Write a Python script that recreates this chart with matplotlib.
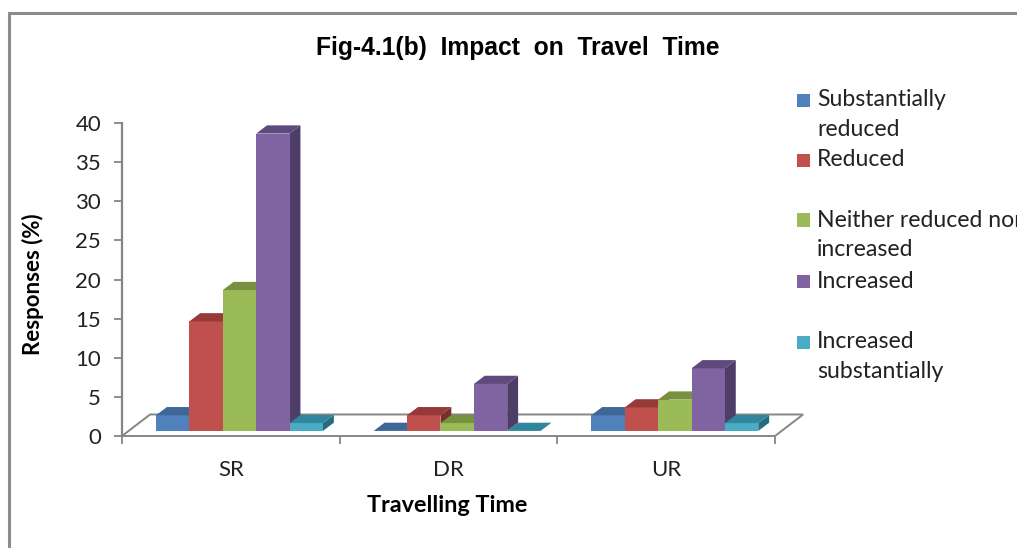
import matplotlib
matplotlib.use("Agg")
import matplotlib.pyplot as plt
from matplotlib.patches import Polygon, Rectangle
import numpy as np

# ---- data -------------------------------------------------------------
categories = ["SR", "DR", "UR"]
series_names = [
    "Substantially\nreduced",
    "Reduced",
    "Neither reduced nor\nincreased",
    "Increased",
    "Increased\nsubstantially",
]
substantially_reduced = [2, 0, 2]
reduced = [14, 2, 3]
neither = [18, 1, 4]
increased = [38, 6, 8]
increased_substantially = [1, 0, 1]
series_values = [substantially_reduced, reduced, neither, increased,
                 increased_substantially]
y_ticks = [0, 5, 10, 15, 20, 25, 30, 35, 40]

# ---- styling ----------------------------------------------------------
front_colors = ["#4F81BD", "#C0504D", "#9BBB59", "#8064A2", "#4BACC6"]
top_colors = ["#3E6696", "#953A37", "#77913F", "#5F4A7E", "#31859C"]
side_colors = ["#2F4F75", "#7A2F2C", "#5F7533", "#4E3D66", "#276B7E"]
axis_gray = "#868686"
text_color = "#222222"
body_font = "Lato"

W, H = 1017, 548
fig = plt.figure(figsize=(W / 100, H / 100), dpi=100)

# outer chart border
fig.patches.append(Rectangle((9 / W, -0.05), 1.2, (548 - 13) / H + 0.05,
                             transform=fig.transFigure, fill=False,
                             edgecolor="#8C8C8C", linewidth=2.2))

# plot area: front plane of the 3-D box
left_px, right_px, zero_px, top_px = 122, 775, 436, 123
ax = fig.add_axes([left_px / W, (H - zero_px) / H,
                   (right_px - left_px) / W, (zero_px - top_px) / H])
ax.set_xlim(-0.5, len(categories) - 0.5)
ax.set_ylim(0, 40)
ax.patch.set_alpha(0)

for s in ["top", "right", "bottom"]:
    ax.spines[s].set_visible(False)
ax.spines["left"].set_color(axis_gray)
ax.spines["left"].set_linewidth(1.6)

ax.set_yticks(y_ticks)
ax.set_yticklabels([str(t) for t in y_ticks], fontsize=16, family=body_font,
                   color=text_color)
ax.tick_params(axis="y", length=6, width=1.3, color=axis_gray, pad=9)

cat_x = np.arange(len(categories))
ax.set_xticks(cat_x)
ax.set_xticklabels(categories, fontsize=16, family=body_font, color=text_color)
ax.tick_params(axis="x", which="major", length=0, pad=17)
ax.set_xticks(np.arange(-0.5, len(categories), 1.0), minor=True)
ax.tick_params(axis="x", which="minor", length=6, width=1.3, color=axis_gray)

# floor of the 3-D box
floor_dx, floor_dy = 0.129, 2.75
x0, x1 = -0.5, len(categories) - 0.5
floor = Polygon([(x0, 0), (x1, 0), (x1 + floor_dx, floor_dy),
                 (x0 + floor_dx, floor_dy)], closed=True,
                facecolor="white", edgecolor=axis_gray, linewidth=1.4,
                clip_on=False, zorder=1)
ax.add_patch(floor)

# bars with top and side faces
bar_w = 0.1534
group_off = -0.3438
bar_base = 0.65
depth_dx, depth_dy = 0.05, 1.05

z = 3
for c in range(len(categories)):
    for i, vals in enumerate(series_values):
        v = vals[c]
        xl = cat_x[c] + group_off + i * bar_w
        ax.bar(xl, v, width=bar_w, bottom=bar_base, align="edge",
               color=front_colors[i], linewidth=0, zorder=z, clip_on=False)
        yt = bar_base + v
        top = Polygon([(xl, yt), (xl + bar_w, yt),
                       (xl + bar_w + depth_dx, yt + depth_dy),
                       (xl + depth_dx, yt + depth_dy)], closed=True,
                      facecolor=top_colors[i], linewidth=0, zorder=z,
                      clip_on=False)
        side = Polygon([(xl + bar_w, bar_base),
                        (xl + bar_w + depth_dx, bar_base + depth_dy),
                        (xl + bar_w + depth_dx, yt + depth_dy),
                        (xl + bar_w, yt)], closed=True,
                       facecolor=side_colors[i], linewidth=0, zorder=z - 0.5,
                       clip_on=False)
        ax.add_patch(top)
        ax.add_patch(side)
        z += 1

# titles
fig.text(518 / W, 1 - 48 / H, "Fig-4.1(b)  Impact  on  Travel  Time",
         ha="center", va="center", fontsize=17.7, fontweight="bold",
         family="Liberation Sans")
fig.text(33 / W, 1 - 284 / H, "Responses (%)", rotation=90, ha="center",
         va="center", fontsize=16, fontweight="bold", family=body_font)
fig.text(447 / W, 1 - 506 / H, "Travelling Time", ha="center", va="center",
         fontsize=16.8, fontweight="bold", family=body_font)

# legend
legend_rows = [100, 160, 220, 281, 342]
line_gap = 29
for i, name in enumerate(series_names):
    yc = 1 - legend_rows[i] / H
    fig.patches.append(Rectangle((797 / W, yc - 6.5 / H), 13 / W, 13 / H,
                                 transform=fig.transFigure,
                                 facecolor=front_colors[i], edgecolor="none"))
    for k, line in enumerate(name.split("\n")):
        fig.text(817 / W, 1 - (legend_rows[i] + k * line_gap) / H, line,
                 ha="left", va="center", fontsize=16.6, family=body_font,
                 color=text_color)

fig.savefig("out.png", dpi=100)
